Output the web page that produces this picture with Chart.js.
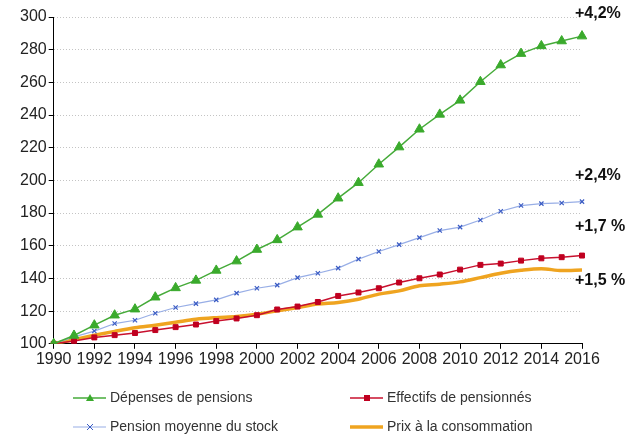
<!DOCTYPE html>
<html>
<head>
<meta charset="utf-8">
<script src="https://cdn.jsdelivr.net/npm/chart.js@4/dist/chart.umd.min.js"></script>
<style>
  html, body { margin: 0; padding: 0; background: #fff; }
  #wrap { width: 625px; height: 436px; position: relative; }
</style>
</head>
<body>
<div id="wrap"><canvas id="chart"></canvas></div>
<script>
// Base 100 en 1990
var years = ['1990','1991','1992','1993','1994','1995','1996','1997','1998','1999',
             '2000','2001','2002','2003','2004','2005','2006','2007','2008','2009',
             '2010','2011','2012','2013','2014','2015','2016'];

var depenses = [100, 105.1, 111.4, 117.5, 121.2, 128.5, 134.2, 138.8, 144.9, 150.6,
                157.7, 163.6, 171.4, 179.2, 189.1, 198.6, 209.9, 220.4, 231.3, 240.4,
                249.0, 260.4, 270.6, 277.6, 282.3, 285.3, 288.3];

var effectifs = [100, 101.7, 103.9, 105.3, 106.6, 108.4, 110.2, 111.8, 113.9, 115.5,
                 117.5, 121.0, 122.8, 125.6, 129.3, 131.4, 134.0, 137.5, 140.1, 142.4,
                 145.4, 148.3, 149.1, 150.9, 152.3, 153.0, 154.0];

var pensionMoyenne = [100, 104.2, 107.8, 112.4, 114.4, 118.7, 122.2, 124.6, 126.9, 131.0,
                      134.0, 135.9, 140.5, 143.2, 146.3, 151.8, 156.5, 160.7, 165.0, 169.3,
                      171.4, 175.8, 181.1, 184.6, 185.8, 186.2, 187.0];

var prix = [100, 102.6, 105.2, 107.6, 109.8, 111.4, 113.2, 115.0, 116.0, 116.7,
            118.1, 120.2, 122.2, 124.3, 125.3, 127.3, 130.4, 132.4, 135.5, 136.5,
            137.9, 140.5, 143.2, 145.0, 146.0, 144.8, 145.2];

var growthLabels = ['+4,2%', '+2,4%', '+1,7 %', '+1,5 %'];
var growthLevels = [302, 203, 172, 138.5];

var FONT = 'Liberation Sans, Arial, sans-serif';

// legende en deux colonnes sous le graphique
var legendPlugin = {
  id: 'bottomLegend',
  afterDraw: function(chart) {
    var ctx = chart.ctx;
    var cols = [73, 350];
    var rows = [398, 427];
    chart.data.datasets.forEach(function(ds, i) {
      var x = cols[i % 2];
      var y = rows[Math.floor(i / 2)];
      var mx = x + 17;
      ctx.save();
      ctx.strokeStyle = ds.borderColor;
      ctx.lineWidth = ds.borderWidth;
      ctx.beginPath();
      ctx.moveTo(x, y);
      ctx.lineTo(x + 33, y);
      ctx.stroke();
      if (ds.pointStyle === 'triangle') {
        ctx.fillStyle = ds.pointBackgroundColor;
        ctx.beginPath();
        ctx.moveTo(mx, y - 4);
        ctx.lineTo(mx + 4, y + 3);
        ctx.lineTo(mx - 4, y + 3);
        ctx.closePath();
        ctx.fill();
      } else if (ds.pointStyle === 'rect') {
        ctx.fillStyle = ds.pointBackgroundColor;
        ctx.fillRect(mx - 3, y - 3, 6, 6);
      } else if (ds.pointStyle === 'crossRot') {
        ctx.strokeStyle = ds.pointBorderColor;
        ctx.lineWidth = 1;
        ctx.beginPath();
        ctx.moveTo(mx - 3, y - 3); ctx.lineTo(mx + 3, y + 3);
        ctx.moveTo(mx + 3, y - 3); ctx.lineTo(mx - 3, y + 3);
        ctx.stroke();
      }
      ctx.fillStyle = '#333';
      ctx.font = '14px ' + FONT;
      ctx.textAlign = 'left';
      ctx.textBaseline = 'middle';
      ctx.fillText(ds.label, x + 37, y);
      ctx.restore();
    });
  }
};

// taux de croissance annuels moyens a droite
var growthPlugin = {
  id: 'growthLabels',
  afterDraw: function(chart) {
    var ctx = chart.ctx;
    var ys = chart.scales.y;
    var x = chart.chartArea.right - 7;
    ctx.save();
    ctx.fillStyle = '#111';
    ctx.font = 'bold 16px ' + FONT;
    ctx.textAlign = 'left';
    ctx.textBaseline = 'middle';
    growthLabels.forEach(function(t, i) {
      ctx.fillText(t, x, ys.getPixelForValue(growthLevels[i]));
    });
    ctx.restore();
  }
};

var ctx = document.getElementById('chart').getContext('2d');
var chart = new Chart(ctx, {
  type: 'line',
  data: {
    labels: years,
    datasets: [{
      label: 'Dépenses de pensions',
      data: depenses,
      borderColor: '#46ab3a',
      borderWidth: 1.5,
      pointStyle: 'triangle',
      pointRadius: 5.5,
      pointBackgroundColor: '#3aaa2c',
      pointBorderColor: '#3aaa2c',
      pointBorderWidth: 1,
      tension: 0
    }, {
      label: 'Effectifs de pensionnés',
      data: effectifs,
      borderColor: '#c8102e',
      borderWidth: 1.5,
      pointStyle: 'rect',
      pointRadius: 3.5,
      pointBackgroundColor: '#c00020',
      pointBorderColor: '#c00020',
      pointBorderWidth: 1,
      tension: 0
    }, {
      label: 'Pension moyenne du stock',
      data: pensionMoyenne,
      borderColor: '#98aee6',
      borderWidth: 1.2,
      pointStyle: 'crossRot',
      pointRadius: 3,
      pointBorderColor: '#3b5cc4',
      pointBorderWidth: 1.2,
      tension: 0
    }, {
      label: 'Prix à la consommation',
      data: prix,
      borderColor: '#efa420',
      borderWidth: 3.5,
      pointRadius: 0,
      cubicInterpolationMode: 'monotone'
    }]
  },
  options: {
    responsive: true,
    maintainAspectRatio: false,
    animation: false,
    layout: {
      padding: { top: 17, right: 43, bottom: 66, left: 18 }
    },
    plugins: {
      legend: { display: false },
      tooltip: { enabled: false }
    },
    scales: {
      x: {
        grid: {
          drawOnChartArea: false,
          tickLength: 5,
          tickColor: function(c) { return c.index % 2 ? 'rgba(0,0,0,0)' : '#000'; }
        },
        border: { color: '#000', width: 1 },
        ticks: {
          autoSkip: false,
          maxRotation: 0,
          padding: 1,
          color: '#222',
          font: { size: 16, family: FONT },
          callback: function(v, i) { return i % 2 ? '' : this.getLabelForValue(v); }
        }
      },
      y: {
        min: 100,
        max: 300,
        grid: {
          color: '#c4c4c4',
          borderDash: [1, 2],
          tickColor: '#000',
          tickBorderDash: [],
          tickLength: 5
        },
        border: { color: '#000', width: 1, dash: [1, 2] },
        ticks: {
          stepSize: 20,
          padding: 2,
          color: '#222',
          font: { size: 16, family: FONT }
        }
      }
    }
  },
  plugins: [legendPlugin, growthPlugin]
});
</script>
</body>
</html>
